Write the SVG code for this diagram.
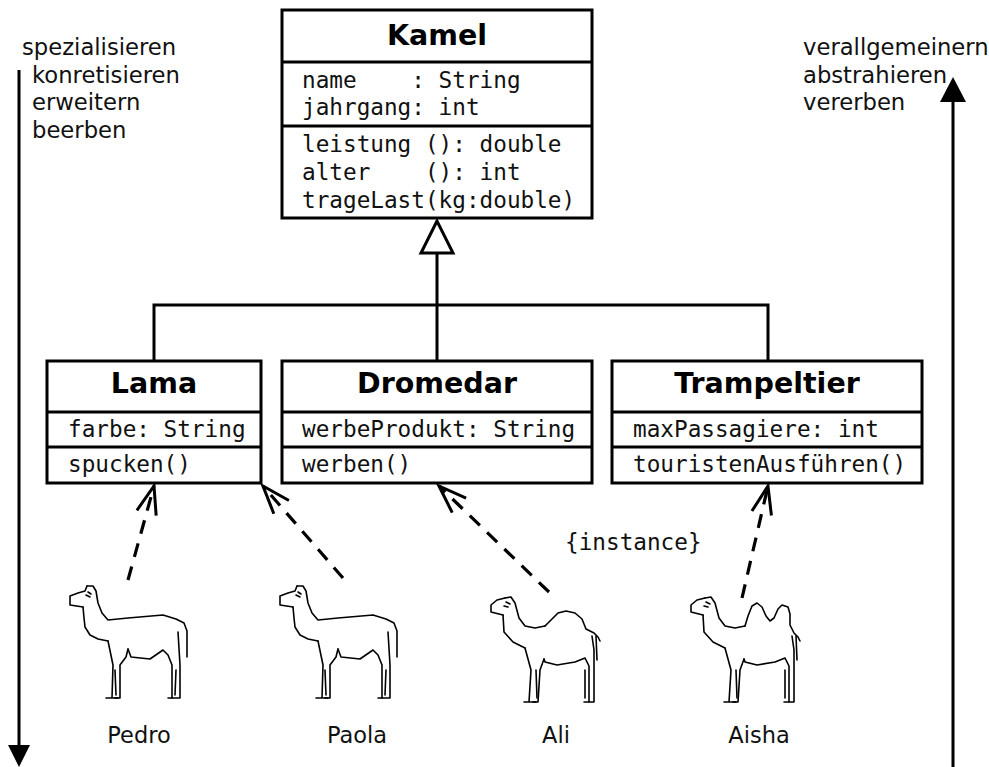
<svg xmlns="http://www.w3.org/2000/svg" width="989" height="767" viewBox="0 0 989 767">
  <style>
    .box { fill: #fff; stroke: #000; stroke-width: 3; }
    .sep { stroke: #000; stroke-width: 3; }
    .title { font-family: "DejaVu Sans", sans-serif; font-weight: bold; font-size: 28.5px; text-anchor: middle; fill: #000; }
    .mono { font-family: "DejaVu Sans Mono", monospace; font-size: 22.7px; fill: #111; }
    .sans { font-family: "DejaVu Sans", sans-serif; font-size: 22.7px; fill: #111; }
    .name { font-family: "DejaVu Sans", sans-serif; font-size: 22.5px; fill: #111; text-anchor: middle; }
    .gen { fill: none; stroke: #000; stroke-width: 3; }
    .dep { fill: none; stroke: #000; stroke-width: 3.2; stroke-dasharray: 14 10; marker-end: url(#openArrow); }
    .sketch { fill: none; stroke: #000; stroke-width: 1.6; stroke-linecap: round; stroke-linejoin: round; }
  </style>
  <defs>
    <marker id="openArrow" markerUnits="userSpaceOnUse" viewBox="-32 -16 36 32" refX="0" refY="0" markerWidth="36" markerHeight="32" orient="auto">
      <path d="M-28,-10 L0,0 L-28,10" fill="none" stroke="#000" stroke-width="3"/>
    </marker>
    <!-- llama outline, local origin at top-left -->
    <g id="llama">
      <path class="sketch" d="M19,1 L25,1 L28,6 L30,18 L34,28 L40,35 L60,33 L95,30 L108,34 L116,38 L119,46 L119,72"/>
      <path class="sketch" d="M19,1 L17,6 L10,8 L2,11 L2,20 L15,22"/>
      <path class="sketch" d="M15,22 L16,33 L17,42 L22,50 L30,54 L40,56"/>
      <path class="sketch" d="M20,7 L23,9 M18,10 L22,12"/>
      <path class="sketch" d="M40,56 L45,80 L44,113 M38,113 L50,113"/>
      <path class="sketch" d="M60,64 L58,72 L52,80 L52,113 L47,113"/>
      <path class="sketch" d="M60,64 L63,72 L82,74 L95,65 L100,70 L104,80 L104,113 L100,113"/>
      <path class="sketch" d="M110,47 L112,80 L112,113 L104,113"/>
      <path class="sketch" d="M47,85 L48,110 M108,85 L107,110"/>
    </g>
    <!-- camel outline, single hump -->
    <g id="camelBody">
      <path class="sketch" d="M22,28 L14,30 L8,35 L8,42 L20,45"/>
      <path class="sketch" d="M22,28 L28,27 L32,33 L36,48 L42,56 L52,58 L62,56"/>
      <path class="sketch" d="M23,32 L27,34 M21,36 L25,37"/>
      <path class="sketch" d="M20,45 L21,62 L30,72 L42,78"/>
      <path class="sketch" d="M42,78 L48,100 L46,132 M41,132 L53,132"/>
      <path class="sketch" d="M61,89 L57,100 L55,132 L50,132"/>
      <path class="sketch" d="M61,89 L62,92 L74,95 L92,92 L102,88 L106,96 L106,132 L101,132"/>
      <path class="sketch" d="M109,66 L111,80 L111,132 L106,132"/>
      <path class="sketch" d="M53,100 L54,128 M102,100 L102,128 M113,66 L114,90"/>
    </g>
  </defs>

  <!-- direction arrows at the margins -->
  <g id="specialize">
    <line x1="19" y1="70" x2="19" y2="750" stroke="#000" stroke-width="3"/>
    <polygon points="8,745 30,745 19,767" fill="#000"/>
    <text class="sans" x="22" y="55">spezialisieren</text>
    <text class="sans" x="32" y="83">konretisieren</text>
    <text class="sans" x="32" y="110">erweitern</text>
    <text class="sans" x="32" y="138">beerben</text>
  </g>
  <g id="generalize">
    <line x1="953" y1="767" x2="953" y2="98" stroke="#000" stroke-width="3"/>
    <polygon points="953,77 940,102 966,102" fill="#000"/>
    <text class="sans" x="803" y="55">verallgemeinern</text>
    <text class="sans" x="803" y="83">abstrahieren</text>
    <text class="sans" x="803" y="110">vererben</text>
  </g>

  <!-- connectors -->
  <g id="connectors">
    <polyline class="gen" points="154,361 154,305 768,305 768,361"/>
    <line class="gen" x1="437" y1="361" x2="437" y2="253"/>
    <polygon points="437,221 421,253 453,253" fill="#fff" stroke="#000" stroke-width="3"/>
    <line class="dep" x1="128" y1="580" x2="154" y2="486"/>
    <line class="dep" x1="343" y1="578" x2="263" y2="486"/>
    <line class="dep" x1="549" y1="592" x2="439" y2="486"/>
    <line class="dep" x1="742" y1="598" x2="768" y2="486"/>
    <text class="mono" x="565" y="550">{instance}</text>
  </g>

  <!-- classes -->
  <g id="kamel">
    <rect class="box" x="282" y="10" width="310" height="208"/>
    <line class="sep" x1="282" y1="62" x2="592" y2="62"/>
    <line class="sep" x1="282" y1="126" x2="592" y2="126"/>
    <text class="title" x="437" y="45">Kamel</text>
    <text class="mono" x="302" y="88" xml:space="preserve">name    : String</text>
    <text class="mono" x="302" y="115">jahrgang: int</text>
    <text class="mono" x="302" y="152">leistung (): double</text>
    <text class="mono" x="302" y="180" xml:space="preserve">alter    (): int</text>
    <text class="mono" x="302" y="208">trageLast(kg:double)</text>
  </g>
  <g id="lama">
    <rect class="box" x="47" y="361" width="214" height="122"/>
    <line class="sep" x1="47" y1="412" x2="261" y2="412"/>
    <line class="sep" x1="47" y1="447" x2="261" y2="447"/>
    <text class="title" x="154" y="393">Lama</text>
    <text class="mono" x="68" y="437">farbe: String</text>
    <text class="mono" x="68" y="472">spucken()</text>
  </g>
  <g id="dromedar">
    <rect class="box" x="282" y="361" width="310" height="122"/>
    <line class="sep" x1="282" y1="412" x2="592" y2="412"/>
    <line class="sep" x1="282" y1="447" x2="592" y2="447"/>
    <text class="title" x="437" y="393">Dromedar</text>
    <text class="mono" x="302" y="437">werbeProdukt: String</text>
    <text class="mono" x="302" y="472">werben()</text>
  </g>
  <g id="trampeltier">
    <rect class="box" x="612" y="361" width="310" height="122"/>
    <line class="sep" x1="612" y1="412" x2="922" y2="412"/>
    <line class="sep" x1="612" y1="447" x2="922" y2="447"/>
    <text class="title" x="767" y="393">Trampeltier</text>
    <text class="mono" x="633" y="437">maxPassagiere: int</text>
    <text class="mono" x="633" y="472">touristenAusführen()</text>
  </g>

  <!-- instances -->
  <g id="pedro">
    <use href="#llama" x="68" y="585"/>
    <text class="name" x="139" y="743">Pedro</text>
  </g>
  <g id="paola">
    <use href="#llama" x="278" y="585"/>
    <text class="name" x="357" y="743">Paola</text>
  </g>
  <g id="ali">
    <use href="#camelBody" x="483" y="570"/>
    <path class="sketch" d="M545,626 L552,619 L558,613 L566,611 L575,613 L582,619 L586,629 L594,633 L598,637 L600,641"/>
    <text class="name" x="556" y="743">Ali</text>
  </g>
  <g id="aisha">
    <use href="#camelBody" x="683" y="570"/>
    <path class="sketch" d="M745,626 L748,616 L752,606 L757,603 L762,607 L766,616 L770,621 L774,618 L778,609 L782,605 L788,607 L790,614 L790,625 L794,633 L798,637 L800,641"/>
    <text class="name" x="759" y="743">Aisha</text>
  </g>
</svg>
